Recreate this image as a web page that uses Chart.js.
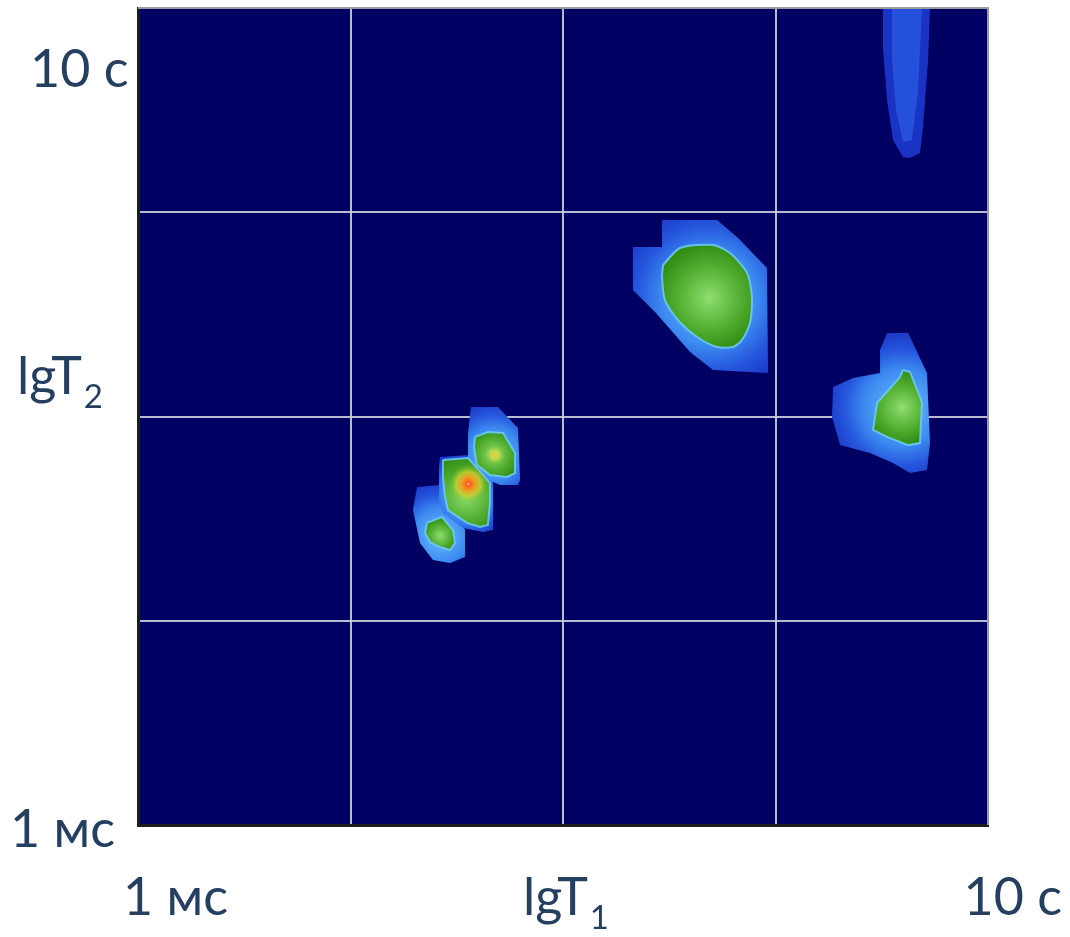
<!DOCTYPE html>
<html>
<head>
<meta charset="utf-8">
<script src="https://cdn.jsdelivr.net/npm/chart.js@4"></script>
<style>
  html, body { margin: 0; padding: 0; background: #fff; }
  #wrap { width: 1070px; height: 937px; }
</style>
</head>
<body>
<div id="wrap"><canvas id="map" width="1070" height="937"></canvas></div>
<script>
// axis: lg of relaxation time, 1 ms .. 10 s
const axisMin = -3;
const axisMax = 1;
const tickValues = [-3, -2, -1, 0, 1];
const xTickText = { "-3": "1 мс", "-1": "lgT", "1": "10 с" };
const yTickText = { "-3": "1 мс", "-1": "lgT", "1": "10 с" };
const xSub = "1";
const ySub = "2";

const bigHalo = [[-0.534,-0.038],[-0.275,-0.038],[-0.176,-0.126],[-0.040,-0.273],[-0.035,-0.787],[-0.294,-0.772],[-0.402,-0.684],[-0.567,-0.488],[-0.671,-0.381],[-0.671,-0.170],[-0.534,-0.170]];
const bigCore = [[-0.529,-0.258],[-0.449,-0.175],[-0.294,-0.160],[-0.214,-0.200],[-0.134,-0.297],[-0.111,-0.415],[-0.120,-0.542],[-0.158,-0.626],[-0.200,-0.660],[-0.275,-0.660],[-0.369,-0.611],[-0.459,-0.528],[-0.520,-0.430],[-0.534,-0.317]];

const rightHalo = [[0.525,-0.591],[0.624,-0.591],[0.713,-0.787],[0.727,-1.130],[0.713,-1.262],[0.633,-1.277],[0.553,-1.228],[0.445,-1.179],[0.304,-1.140],[0.266,-1.002],[0.271,-0.856],[0.365,-0.812],[0.492,-0.787],[0.492,-0.674]];
const rightCore = [[0.600,-0.772],[0.633,-0.782],[0.680,-0.905],[0.689,-0.934],[0.680,-1.130],[0.624,-1.140],[0.525,-1.100],[0.459,-1.066],[0.478,-0.934],[0.586,-0.807]];

const streakOuter = [[0.506,1.0],[0.727,1.0],[0.718,0.745],[0.694,0.417],[0.680,0.290],[0.633,0.266],[0.600,0.271],[0.553,0.354],[0.525,0.550],[0.506,0.794]];
const streakInner = [[0.548,1.0],[0.689,1.0],[0.671,0.599],[0.642,0.354],[0.600,0.344],[0.567,0.501],[0.548,0.745]];

const aHalo = [[-1.433,-0.953],[-1.306,-0.953],[-1.212,-1.056],[-1.202,-1.311],[-1.212,-1.335],[-1.296,-1.335],[-1.405,-1.286],[-1.447,-1.237],[-1.447,-1.081]];
const aCore = [[-1.414,-1.100],[-1.353,-1.076],[-1.282,-1.081],[-1.226,-1.179],[-1.226,-1.277],[-1.264,-1.296],[-1.344,-1.286],[-1.405,-1.237],[-1.419,-1.149]];

const bHalo = [[-1.579,-1.198],[-1.438,-1.188],[-1.329,-1.311],[-1.329,-1.556],[-1.376,-1.566],[-1.471,-1.546],[-1.565,-1.472],[-1.588,-1.409],[-1.584,-1.247]];
const bCore = [[-1.565,-1.213],[-1.447,-1.203],[-1.344,-1.326],[-1.344,-1.424],[-1.353,-1.531],[-1.391,-1.541],[-1.452,-1.521],[-1.541,-1.458],[-1.555,-1.394],[-1.565,-1.296]];

const cHalo = [[-1.687,-1.345],[-1.579,-1.335],[-1.532,-1.409],[-1.461,-1.556],[-1.461,-1.688],[-1.532,-1.717],[-1.612,-1.703],[-1.673,-1.619],[-1.706,-1.458]];
const cCore = [[-1.640,-1.521],[-1.569,-1.492],[-1.518,-1.556],[-1.508,-1.619],[-1.532,-1.654],[-1.579,-1.639],[-1.626,-1.614],[-1.649,-1.570]];

// local maxima
const peakHot = [[-1.445,-1.330]];
const peakWarm = [[-1.320,-1.188]];

const navy = "rgb(0,0,98)";
const haloStops = [[0, "#6cc0ff"], [0.5, "#3c8af0"], [0.75, "#2658de"], [1, "#1a38c6"]];
const coreStops = [[0, "#8ede70"], [0.55, "#52ae30"], [1, "#2c880e"]];

function toPx(chart, pts) {
  const xs = chart.scales.x, ys = chart.scales.y;
  return pts.map((p) => [xs.getPixelForValue(p[0]), ys.getPixelForValue(p[1])]);
}

function centerOf(px) {
  let cx = 0, cy = 0;
  px.forEach((p) => { cx += p[0]; cy += p[1]; });
  return [cx / px.length, cy / px.length];
}

// radial gradient centred on `inner`, reaching the furthest vertex of `outer`
function radial(inner, outer, stops) {
  return (ctx) => {
    const chart = ctx.chart;
    if (!chart.chartArea || !chart.scales.x) return stops[stops.length - 1][1];
    const c = centerOf(toPx(chart, inner));
    let r = 1;
    toPx(chart, outer).forEach((p) => { r = Math.max(r, Math.hypot(p[0] - c[0], p[1] - c[1])); });
    const g = chart.ctx.createRadialGradient(c[0], c[1], 0, c[0], c[1], r);
    stops.forEach((s) => g.addColorStop(s[0], s[1]));
    return g;
  };
}

function spot(stops) {
  return (ctx) => {
    const chart = ctx.chart;
    if (!chart.chartArea || !ctx.raw) return stops[1][1];
    const x = chart.scales.x.getPixelForValue(ctx.raw.x);
    const y = chart.scales.y.getPixelForValue(ctx.raw.y);
    const r = ctx.dataset.pointRadius;
    const g = chart.ctx.createRadialGradient(x, y, 0, x, y, r);
    stops.forEach((s) => g.addColorStop(s[0], s[1]));
    return g;
  };
}

function shape(label, pts, fill, order, extra) {
  const data = pts.map((p) => ({ x: p[0], y: p[1] }));
  data.push({ x: pts[0][0], y: pts[0][1] });
  return Object.assign({
    label,
    data,
    showLine: true,
    fill: "shape",
    backgroundColor: fill,
    borderColor: "transparent",
    borderWidth: 1,
    pointRadius: 0,
    tension: 0,
    order,
  }, extra || {});
}

const rim = { borderColor: "rgba(110,205,245,0.85)", borderWidth: 2 };

const datasets = [
  shape("streak", streakOuter, "#1934c4", 4),
  shape("streak core", streakInner, "#2450dc", 3),
  shape("big halo", bigHalo, radial(bigCore, bigHalo, haloStops), 4),
  shape("big core", bigCore, radial(bigCore, bigCore, coreStops), 2, Object.assign({ tension: 0.25 }, rim)),
  shape("right halo", rightHalo, radial(rightCore, rightHalo, haloStops), 4),
  shape("right core", rightCore, radial(rightCore, rightCore, coreStops), 2, rim),
  shape("A halo", aHalo, radial(aCore, aHalo, haloStops), 4),
  shape("A core", aCore, radial(aCore, aCore, coreStops), 2, rim),
  shape("B halo", bHalo, radial(bCore, bHalo, haloStops), 4),
  shape("B core", bCore, radial(bCore, bCore, coreStops), 2, rim),
  shape("C halo", cHalo, radial(cCore, cHalo, haloStops), 4),
  shape("C core", cCore, radial(cCore, cCore, coreStops), 2, rim),
  {
    label: "peak hot",
    data: peakHot.map((p) => ({ x: p[0], y: p[1] })),
    pointRadius: 19,
    pointBorderWidth: 0,
    pointBackgroundColor: spot([[0, "#fff6ee"], [0.08, "#ff5a1c"], [0.35, "#f29a22"], [0.65, "rgba(205,210,50,0.75)"], [1, "rgba(120,190,40,0)"]]),
    order: 1,
  },
  {
    label: "peak warm",
    data: peakWarm.map((p) => ({ x: p[0], y: p[1] })),
    pointRadius: 10,
    pointBorderWidth: 0,
    pointBackgroundColor: spot([[0, "#f6c83a"], [0.45, "rgba(205,222,70,0.75)"], [1, "rgba(140,200,60,0)"]]),
    order: 1,
  },
];

const plotBackground = {
  id: "plotBackground",
  beforeDraw(chart) {
    const { ctx, chartArea: a } = chart;
    ctx.save();
    ctx.fillStyle = navy;
    ctx.fillRect(a.left, a.top, a.right - a.left, a.bottom - a.top);
    ctx.restore();
  },
  afterDraw(chart) {
    const { ctx, chartArea: a } = chart;
    ctx.save();
    ctx.strokeStyle = "#9c9c9c";
    ctx.lineWidth = 2;
    ctx.beginPath();
    ctx.moveTo(a.left, a.top);
    ctx.lineTo(a.right, a.top);
    ctx.lineTo(a.right, a.bottom);
    ctx.stroke();
    ctx.restore();
  },
};

// axis texts with a real subscript
const axisText = {
  id: "axisText",
  afterDraw(chart) {
    const { ctx, chartArea: a } = chart;
    const xs = chart.scales.x, ys = chart.scales.y;
    const big = "52px Lato, 'Noto Sans', sans-serif";
    const small = "33px Lato, 'Noto Sans', sans-serif";
    ctx.save();
    ctx.fillStyle = "#243f60";
    ctx.textBaseline = "alphabetic";
    ctx.font = big;

    const xBase = a.bottom + 90;
    ctx.textAlign = "left";
    ctx.fillText(xTickText["-3"], xs.getPixelForValue(-3) - 15, xBase);
    ctx.textAlign = "right";
    ctx.fillText(xTickText["1"], xs.getPixelForValue(1) + 74, xBase);

    ctx.textAlign = "left";
    let w1 = ctx.measureText(xTickText["-1"]).width;
    ctx.font = small;
    let w2 = ctx.measureText(xSub).width;
    let x0 = xs.getPixelForValue(-1) + 3 - (w1 + w2 + 2) / 2;
    ctx.font = big;
    ctx.fillText(xTickText["-1"], x0, xBase);
    ctx.font = small;
    ctx.fillText(xSub, x0 + w1 + 2, xBase + 14);

    ctx.font = big;
    ctx.fillText(yTickText["1"], 30, ys.getPixelForValue(1) + 79);
    ctx.fillText(yTickText["-3"], 10, ys.getPixelForValue(-3) + 22);
    const yBase = ys.getPixelForValue(-1) - 23;
    w1 = ctx.measureText(yTickText["-1"]).width;
    ctx.fillText(yTickText["-1"], 17, yBase);
    ctx.font = small;
    ctx.fillText(ySub, 17 + w1 + 2, yBase + 14);
    ctx.restore();
  },
};

function axisOptions() {
  return {
    type: "linear",
    min: axisMin,
    max: axisMax,
    z: 1,
    afterBuildTicks: (scale) => { scale.ticks = tickValues.map((v) => ({ value: v })); },
    ticks: { display: false },
    grid: {
      drawTicks: false,
      color: (c) => (c.tick && (c.tick.value === axisMin || c.tick.value === axisMax) ? "transparent" : "rgba(205,205,220,0.9)"),
      lineWidth: 2,
    },
    border: { display: true, color: "#1c1c1c", width: 3 },
  };
}

new Chart(document.getElementById("map"), {
  type: "scatter",
  data: { datasets },
  plugins: [plotBackground, axisText],
  options: {
    responsive: false,
    animation: false,
    layout: { autoPadding: false, padding: { left: 138, top: 8, right: 82, bottom: 112 } },
    plugins: {
      legend: { display: false },
      tooltip: { enabled: false },
    },
    scales: {
      x: axisOptions(),
      y: axisOptions(),
    },
  },
});
</script>
</body>
</html>
